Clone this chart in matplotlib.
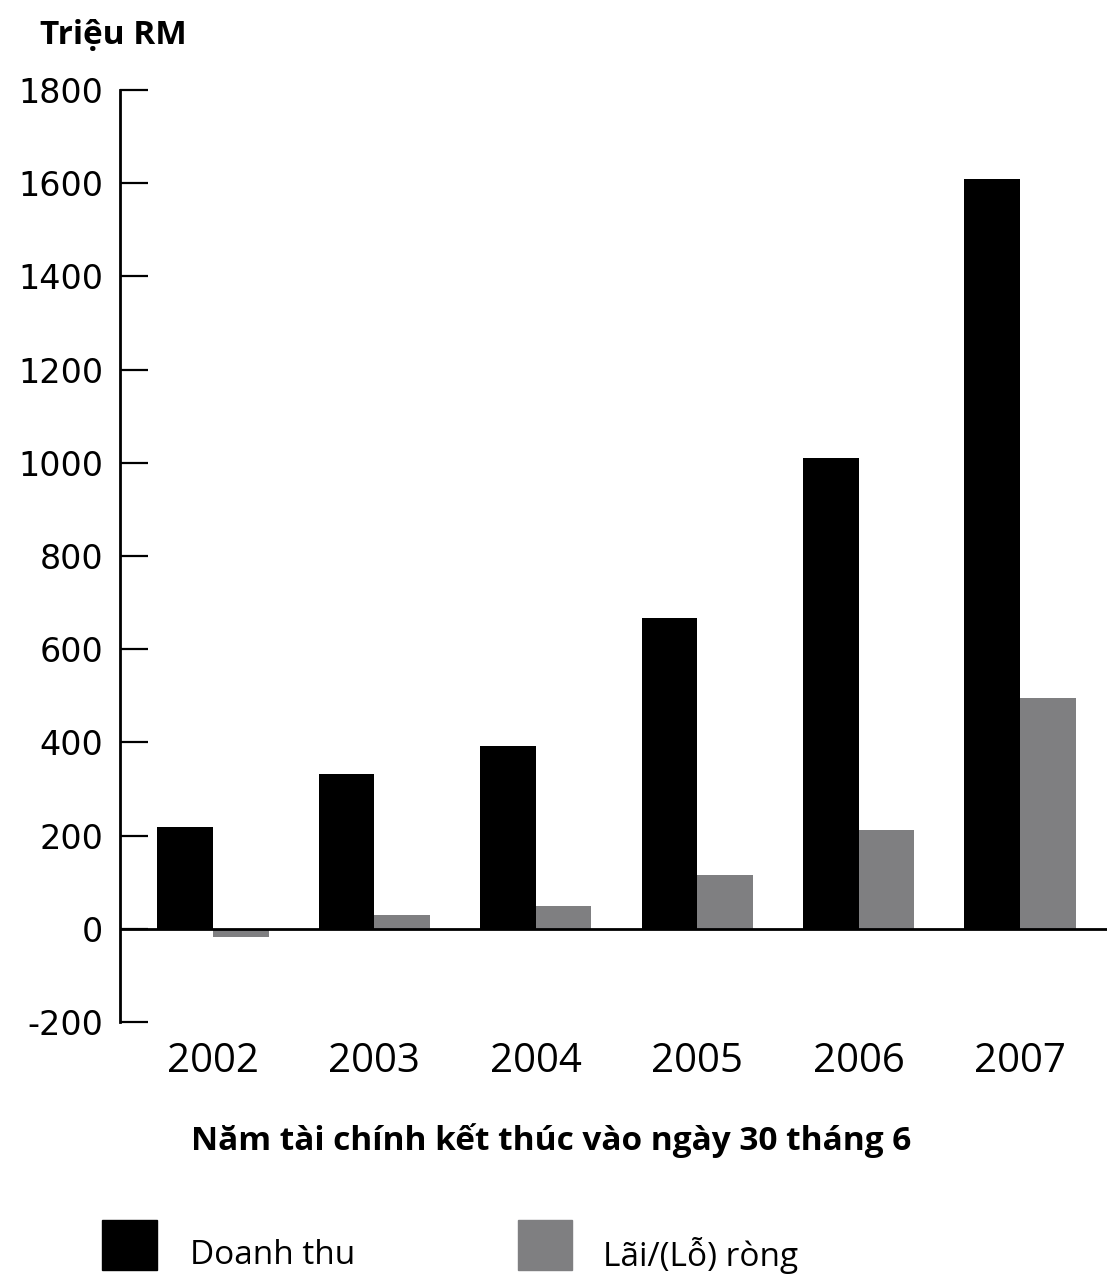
import matplotlib
matplotlib.use("Agg")
import matplotlib.pyplot as plt
import numpy as np

# ── Data (triệu RM) ───────────────────────────────────
years = ["2002", "2003", "2004", "2005", "2006", "2007"]
revenue = [218, 332, 392, 668, 1010, 1610]
net_profit = [-17, 29, 48, 115, 213, 495]
y_ticks = [-200, 0, 200, 400, 600, 800, 1000, 1200, 1400, 1600, 1800]

NARROW = ["Liberation Sans Narrow", "Open Sans", "DejaVu Sans"]
GREY = "#7f7f81"

# ── Figure ────────────────────────────────────────────
fig = plt.figure(figsize=(11.07, 12.77), dpi=100)
ax = fig.add_axes([0.1084, 0.1997, 0.8916, 0.7298])

x = np.arange(len(years))
w = 0.345
ax.bar(x - w / 2, revenue, width=w, color="black", label="Doanh thu")
ax.bar(x + w / 2, net_profit, width=w, color=GREY, label="Lãi/(Lỗ) ròng")

ax.axhline(0, color="black", lw=2)

ax.set_ylim(-200, 1800)
ax.set_xlim(-0.576, 5.539)
ax.set_yticks(y_ticks)
ax.set_yticklabels([str(t) for t in y_ticks], fontsize=24, family="DejaVu Sans")
ax.set_xticks(x)
ax.set_xticklabels(years, fontsize=29, family="Open Sans")

for s in ["top", "right", "bottom"]:
    ax.spines[s].set_visible(False)
ax.spines["left"].set_linewidth(2)
ax.tick_params(axis="y", direction="in", length=20, width=1.6, pad=12)
ax.tick_params(axis="x", length=0, pad=14)

fig.text(0.036, 0.972, "Triệu RM", fontsize=24, fontweight="bold",
         family=NARROW, va="center", ha="left")
fig.text(0.498, 0.107, "Năm tài chính kết thúc vào ngày 30 tháng 6",
         fontsize=24, fontweight="bold", family=NARROW, ha="center", va="center")

# ── Legend ────────────────────────────────────────────
fig.patches.append(plt.Rectangle((102 / 1107, 1 - 1270 / 1277), 55 / 1107, 50 / 1277,
                                 transform=fig.transFigure, color="black"))
fig.patches.append(plt.Rectangle((518 / 1107, 1 - 1270 / 1277), 54 / 1107, 50 / 1277,
                                 transform=fig.transFigure, color=GREY))
fig.text(190 / 1107, 1 - 1255 / 1277, "Doanh thu", fontsize=24,
         family=NARROW, va="center", ha="left")
fig.text(603 / 1107, 1 - 1255 / 1277, "Lãi/(Lỗ) ròng", fontsize=24,
         family=NARROW, va="center", ha="left")

fig.savefig("out.png", dpi=100, facecolor="white")
